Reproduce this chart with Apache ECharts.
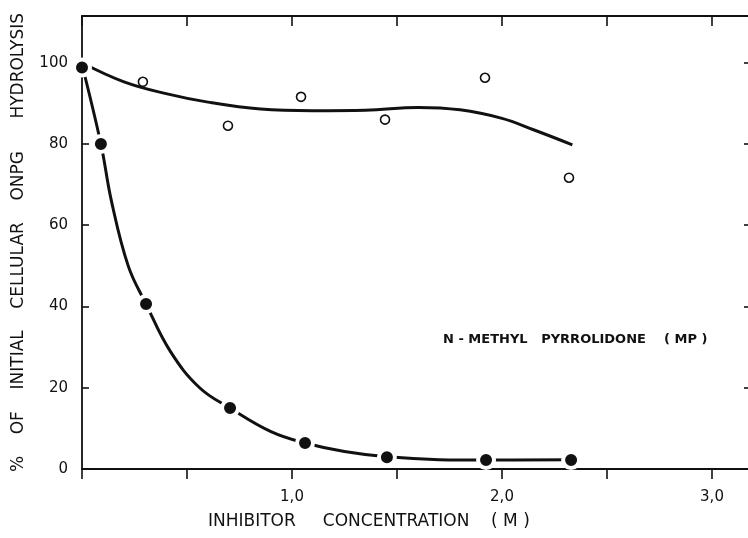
<!DOCTYPE html>
<html>
<head>
<meta charset="utf-8">
<script src="https://cdn.jsdelivr.net/npm/echarts@6/dist/echarts.min.js"></script>
<style>
  html, body { margin: 0; padding: 0; background: #fff; }
  #chart { width: 748px; height: 538px; }
</style>
</head>
<body>
<div id="chart"></div>
<script>
// open circles: control (measured points)
const openPoints = [[0.29, 95.3], [0.695, 84.5], [1.043, 91.6], [1.443, 86.0], [1.919, 96.3], [2.319, 71.7]];
// filled circles: N-methyl pyrrolidone
const filledPoints = [[0.0, 98.8], [0.09, 80.0], [0.305, 40.6], [0.705, 15.0], [1.062, 6.4], [1.452, 2.9], [1.924, 2.2], [2.329, 2.2]];
// hand-drawn fitted curves
const openCurve = [[0, 100], [0.2, 95.3], [0.4, 92.4], [0.6, 90.3], [0.85, 88.6], [1.1, 88.2], [1.35, 88.3], [1.6, 89.0], [1.8, 88.4], [2.0, 86.3], [2.15, 83.5], [2.335, 79.8]];
const filledCurve = [[0, 99.5], [0.09, 80], [0.14, 66], [0.22, 50], [0.305, 40.6], [0.42, 29], [0.56, 20], [0.705, 15], [0.9, 9.2], [1.062, 6.4], [1.25, 4.3], [1.452, 3.0], [1.7, 2.3], [1.924, 2.2], [2.329, 2.3]];
const xLabels = { 1: "1,0", 2: "2,0", 3: "3,0" };

const ink = "#111";
const font = "DejaVu Sans";
const chart = echarts.init(document.getElementById("chart"));

const option = {
  animation: false,
  backgroundColor: "#fff",
  grid: { left: 82, top: 16, width: 672, height: 453, outerBoundsMode: "none" },
  xAxis: [
    {
      type: "value", min: 0, max: 3.2, interval: 0.5,
      axisLine: { onZero: false, lineStyle: { color: ink, width: 1.8 } },
      axisTick: { inside: false, length: 10, lineStyle: { color: ink, width: 1.6 } },
      splitLine: { show: false },
      axisLabel: {
        margin: 21, color: ink, fontFamily: font, fontSize: 15,
        showMaxLabel: false,
        formatter: (v) => xLabels[v] || ""
      }
    },
    {
      type: "value", position: "top", min: 0, max: 3.2, interval: 0.5,
      axisLine: { onZero: false, lineStyle: { color: ink, width: 1.8 } },
      axisTick: { inside: true, length: 10, lineStyle: { color: ink, width: 1.6 } },
      axisLabel: { show: false }, splitLine: { show: false }
    }
  ],
  yAxis: [
    {
      type: "value", min: 0, max: 111.5, interval: 20,
      name: "%    OF    INITIAL    CELLULAR    ONPG      HYDROLYSIS",
      nameLocation: "middle", nameRotate: 90, nameGap: 55,
      nameTextStyle: { color: ink, fontFamily: font, fontSize: 17 },
      axisLine: { onZero: false, lineStyle: { color: ink, width: 1.8 } },
      axisTick: { inside: true, length: 7, lineStyle: { color: ink, width: 1.6 } },
      splitLine: { show: false },
      axisLabel: {
        margin: 14, color: ink, fontFamily: font, fontSize: 15,
        showMaxLabel: false,
        formatter: (v) => (v % 20 === 0 ? String(v) : "")
      }
    },
    {
      type: "value", position: "right", min: 0, max: 111.5, interval: 20,
      axisLine: { onZero: false, lineStyle: { color: ink, width: 1.8 } },
      axisTick: { inside: true, length: 10, lineStyle: { color: ink, width: 1.6 } },
      axisLabel: { show: false }, splitLine: { show: false }
    }
  ],
  graphic: [
    {
      type: "text", left: 208, top: 513,
      style: { text: "INHIBITOR     CONCENTRATION    ( M )", fill: ink, font: "17px 'DejaVu Sans'" }
    },
    {
      type: "text", left: 443, top: 333,
      style: { text: "N - METHYL   PYRROLIDONE    ( MP )", fill: ink, font: "bold 13px 'DejaVu Sans'" }
    }
  ],
  series: [
    {
      type: "line", data: openCurve, smooth: 0.4, showSymbol: false,
      lineStyle: { color: ink, width: 3 }, z: 2
    },
    {
      type: "line", data: filledCurve, smooth: 0.4, showSymbol: false,
      lineStyle: { color: ink, width: 3 }, z: 2
    },
    {
      type: "scatter", data: openPoints, symbol: "circle", symbolSize: 9,
      itemStyle: { color: "#fff", borderColor: ink, borderWidth: 1.6, opacity: 1 }, z: 3
    },
    {
      type: "scatter", data: filledPoints, symbol: "circle", symbolSize: 16,
      itemStyle: { color: ink, borderColor: "#fff", borderWidth: 4, opacity: 1 }, z: 3
    }
  ]
};

chart.setOption(option);
</script>
</body>
</html>
